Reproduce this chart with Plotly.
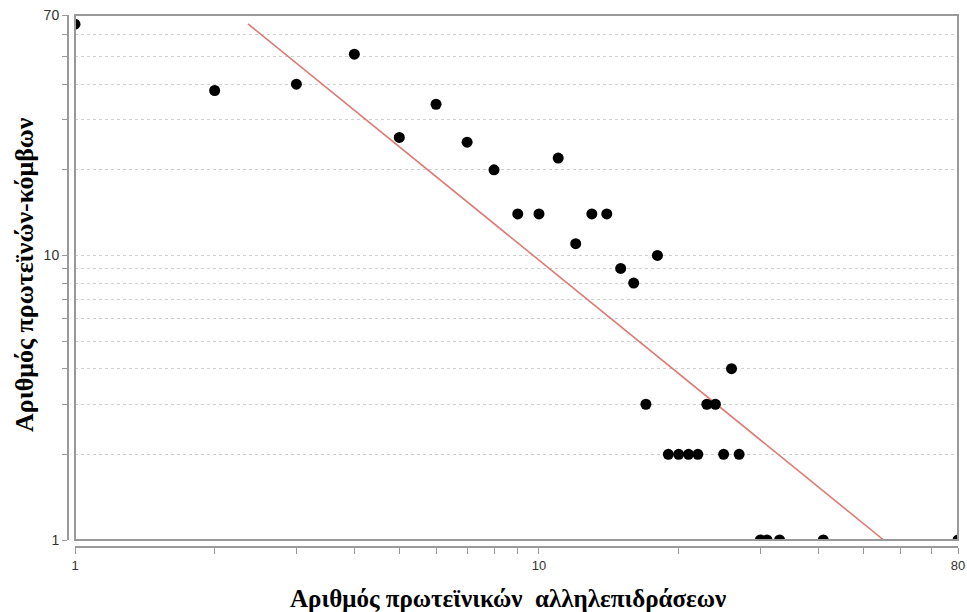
import plotly.graph_objects as go
import numpy as np

# Data: number of protein interactions (x) vs number of protein nodes (y)
interactions = [1, 2, 3, 4, 5, 6, 7, 8, 9, 10, 11, 12, 13, 14, 15, 16, 17, 18,
                19, 20, 21, 22, 23, 24, 25, 26, 27, 30, 31, 33, 41, 80]
nodes = [65, 38, 40, 51, 26, 34, 25, 20, 14, 14, 22, 11, 14, 14, 9, 8, 3, 10,
         2, 2, 2, 2, 3, 3, 2, 4, 2, 1, 1, 1, 1, 1]

# Power-law fit y = C * x^k, drawn over the fitted x-span
fit_coef = 203.0
fit_exp = -1.324
fit_x = [2.36, 55.4]
fit_y = [fit_coef * v ** fit_exp for v in fit_x]

x_tickvals = [1, 2, 3, 4, 5, 6, 7, 8, 9, 10, 20, 30, 40, 50, 60, 70, 80]
x_ticklabels = {1: "1", 10: "10", 80: "80"}
y_tickvals = [1, 2, 3, 4, 5, 6, 7, 8, 9, 10, 20, 30, 40, 50, 60, 70]
y_ticklabels = {1: "1", 10: "10", 70: "70"}

x_title = "Αριθμός πρωτεϊνικών  αλληλεπιδράσεων"
y_title = "Αριθμός πρωτεϊνών-κόμβων"

fig = go.Figure()
fig.add_trace(go.Scatter(
    x=fit_x, y=fit_y, mode="lines",
    line=dict(color="#dc7b76", width=1.6),
    showlegend=False, hoverinfo="skip"))
fig.add_trace(go.Scatter(
    x=interactions, y=nodes, mode="markers",
    marker=dict(color="black", size=11),
    showlegend=False, cliponaxis=True))

W, H = 967, 612
l, r, t, b = 68, 9, 15, 65
gap = 7
pw, ph = W - l - r, H - t - b

fig.update_layout(
    width=W, height=H,
    margin=dict(l=l, r=r, t=t, b=b, pad=0, autoexpand=False),
    paper_bgcolor="white", plot_bgcolor="white",
    font=dict(family="Liberation Sans, Arial, sans-serif", color="#333"),
    xaxis=dict(
        type="log", range=[0, np.log10(80)],
        domain=[gap / pw, 1],
        anchor="free", position=0, automargin=False,
        tickvals=x_tickvals,
        ticktext=[x_ticklabels.get(v, "") for v in x_tickvals],
        ticks="outside", ticklen=6, tickcolor="#999", tickwidth=1,
        showline=True, linecolor="#999", linewidth=2,
        showgrid=False, zeroline=False,
        tickfont=dict(size=13, color="#333"),
    ),
    yaxis=dict(
        type="log", range=[0, np.log10(70)],
        domain=[gap / ph, 1],
        anchor="free", position=0, automargin=False,
        tickvals=y_tickvals,
        ticktext=[y_ticklabels.get(v, "") for v in y_tickvals],
        ticks="outside", ticklen=5, tickcolor="#999", tickwidth=1,
        showline=True, linecolor="#999", linewidth=2,
        showgrid=True, gridcolor="#cfcfcf", griddash="3px,3px", gridwidth=1,
        zeroline=False,
        tickfont=dict(size=14, color="#333"),
    ),
    shapes=[dict(type="rect", xref="x domain", yref="y domain",
                 x0=0, x1=1, y0=0, y1=1,
                 line=dict(color="#999", width=2), layer="above")],
    annotations=[
        dict(text=x_title, xref="paper", yref="paper",
             x=0.494, y=(H - b - 598) / ph, xanchor="center", yanchor="middle",
             showarrow=False,
             font=dict(family="Liberation Serif, Times New Roman, serif",
                       size=25, color="black", weight="bold")),
        dict(text=y_title, xref="paper", yref="paper",
             x=(24 - l) / pw, y=(H - b - 275) / ph, xanchor="center", yanchor="middle",
             textangle=-90, showarrow=False,
             font=dict(family="Liberation Serif, Times New Roman, serif",
                       size=26, color="black", weight="bold")),
    ],
)

fig.write_html("out.html",
               config={"displayModeBar": False},
               post_script="document.body.style.margin='0';document.body.style.overflow='hidden';")
